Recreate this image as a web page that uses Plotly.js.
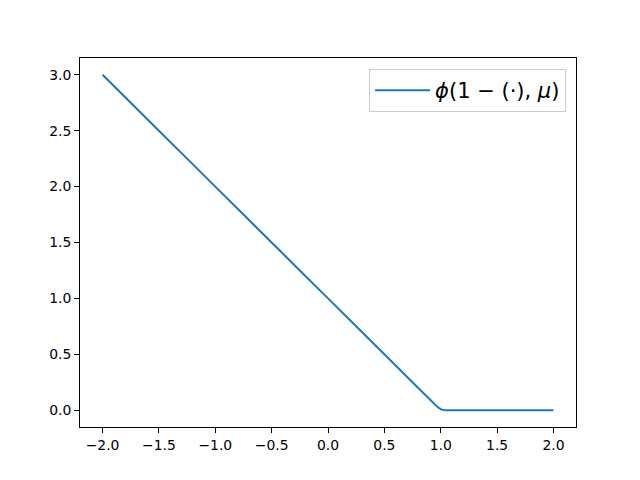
<!DOCTYPE html>
<html><head><meta charset="utf-8">
<script src="https://cdn.plot.ly/plotly-3.0.1.min.js"></script>
<style>body{margin:0;background:#fff}#c{width:640px;height:480px}</style>
</head><body><div id="c"></div>
<script>
const xVals = [-2.0, -1.5, -1.0, -0.5, 0.0, 0.5, 0.9, 0.95, 0.97, 0.99, 1.0, 1.01, 1.03, 1.05, 1.5, 2.0];
const yVals = [3.0, 2.5, 2.0, 1.5, 1.0, 0.5, 0.1, 0.05, 0.032, 0.016, 0.01, 0.005, 0.001, 0.0, 0.0, 0.0];
const seriesName = '<i>ϕ</i>(1 − (·), <i>μ</i>)';
const xTicks = [-2.0, -1.5, -1.0, -0.5, 0.0, 0.5, 1.0, 1.5, 2.0];
const yTicks = [0.0, 0.5, 1.0, 1.5, 2.0, 2.5, 3.0];
const fmt = v => (v < 0 ? '\u2212' : '') + Math.abs(v).toFixed(1);

Plotly.newPlot('c', [{
  x: xVals, y: yVals, type: 'scatter', mode: 'lines', name: seriesName,
  line: {color: '#1f77b4', width: 2, shape: 'spline', smoothing: 0.3}
}], {
  width: 640, height: 480,
  margin: {l: 80, r: 64, t: 58, b: 53},
  paper_bgcolor: '#fff', plot_bgcolor: '#fff',
  font: {family: 'DejaVu Sans', size: 13.9, color: '#000'},
  showlegend: true,
  xaxis: {range: [-2.2, 2.2], tickvals: xTicks, ticktext: xTicks.map(fmt), ticks: 'outside', ticklen: 4.9, tickwidth: 1, tickcolor: '#000',
    showline: true, linecolor: '#000', linewidth: 1, mirror: true, showgrid: false, zeroline: false},
  yaxis: {range: [-0.15, 3.15], tickvals: yTicks, ticktext: yTicks.map(fmt), ticks: 'outside', ticklen: 4.9, tickwidth: 1, tickcolor: '#000',
    showline: true, linecolor: '#000', linewidth: 1, mirror: true, showgrid: false, zeroline: false},
  legend: {x: 0.98, y: 0.97, xanchor: 'right', yanchor: 'top', bgcolor: 'rgba(255,255,255,0.8)', bordercolor: '#cccccc', borderwidth: 1,
    itemwidth: 55, font: {family: 'DejaVu Sans', size: 21}}
}, {displayModeBar: false, staticPlot: true});
</script></body></html>
